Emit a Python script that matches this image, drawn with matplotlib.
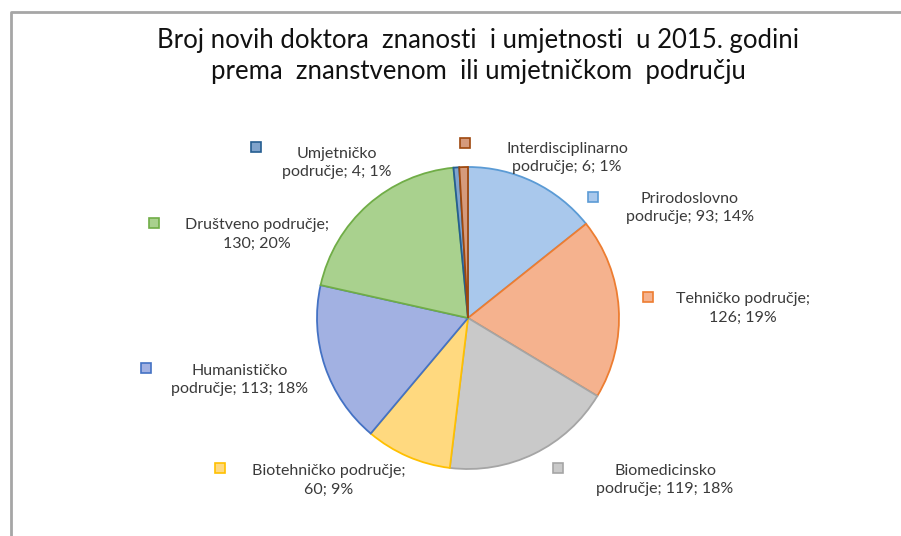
import matplotlib.pyplot as plt

plt.rcParams['font.family'] = ['Lato', 'DejaVu Sans']

# podaci
podrucja = ['Prirodoslovno', 'Tehničko', 'Biomedicinsko', 'Biotehničko',
            'Humanističko', 'Društveno', 'Umjetničko', 'Interdisciplinarno']
broj = [93, 126, 119, 60, 113, 130, 4, 6]
postotak = [14, 19, 18, 9, 18, 20, 1, 1]
oznake = ['Prirodoslovno\npodručje; 93; 14%',
          'Tehničko područje;\n126; 19%',
          'Biomedicinsko\npodručje; 119; 18%',
          'Biotehničko područje;\n60; 9%',
          'Humanističko\npodručje; 113; 18%',
          'Društveno područje;\n130; 20%',
          'Umjetničko\npodručje; 4; 1%',
          'Interdisciplinarno\npodručje; 6; 1%']

rubovi = ['#5b9bd5', '#ed7d31', '#a5a5a5', '#ffc000',
          '#4472c4', '#70ad47', '#255e91', '#9e480e']
ispune = ['#a9c8ec', '#f5b28e', '#c9c9c9', '#ffd97f',
          '#a2b1e2', '#a9d18e', '#7fa3cc', '#d59a7c']

# pozicije oznaka (pikseli, y od vrha) i kvadratica
txt_pos = [(690, 208), (743, 308), (665, 480), (329, 480),
           (240, 380), (257, 234), (337, 163), (567, 158)]
mark_pos = [(593, 197), (648, 297), (558, 468), (220, 468),
            (146, 368), (154, 223), (256, 147), (465, 143)]

W, H = 901, 536
fig = plt.figure(figsize=(W / 100, H / 100), dpi=100)
ax = fig.add_axes([0, 0, 1, 1])

wedges, _ = ax.pie(broj, startangle=90, counterclock=False,
                   center=(468, H - 318), radius=151, frame=True)
for w, fc, ec in zip(wedges, ispune, rubovi):
    w.set_facecolor(fc)
    w.set_edgecolor(ec)
    w.set_linewidth(1.3)
ax.set_xlim(0, W)
ax.set_ylim(0, H)
ax.set_aspect('equal')
ax.axis('off')

for lab, (tx, ty), (mx, my), fc, ec in zip(oznake, txt_pos, mark_pos, ispune, rubovi):
    ax.text(tx, H - ty, lab, ha='center', va='center', fontsize=11.5,
            color='#3a3a3a', linespacing=1.45)
    ax.plot(mx, H - my, marker='s', markersize=6.5, markerfacecolor=fc,
            markeredgecolor=ec, markeredgewidth=1.2, linestyle='none')

ax.text(478, H - 56, 'Broj novih doktora  znanosti  i umjetnosti  u 2015. godini\n'
        'prema  znanstvenom  ili umjetničkom  području',
        ha='center', va='center', fontsize=18.5, color='#111111', linespacing=1.3)

# okvir
ax.plot([10.5, 10.5, W], [0, H - 11.5, H - 11.5], color='#a6a6a6', linewidth=2,
        solid_capstyle='butt')

fig.savefig('out.png', dpi=100)
